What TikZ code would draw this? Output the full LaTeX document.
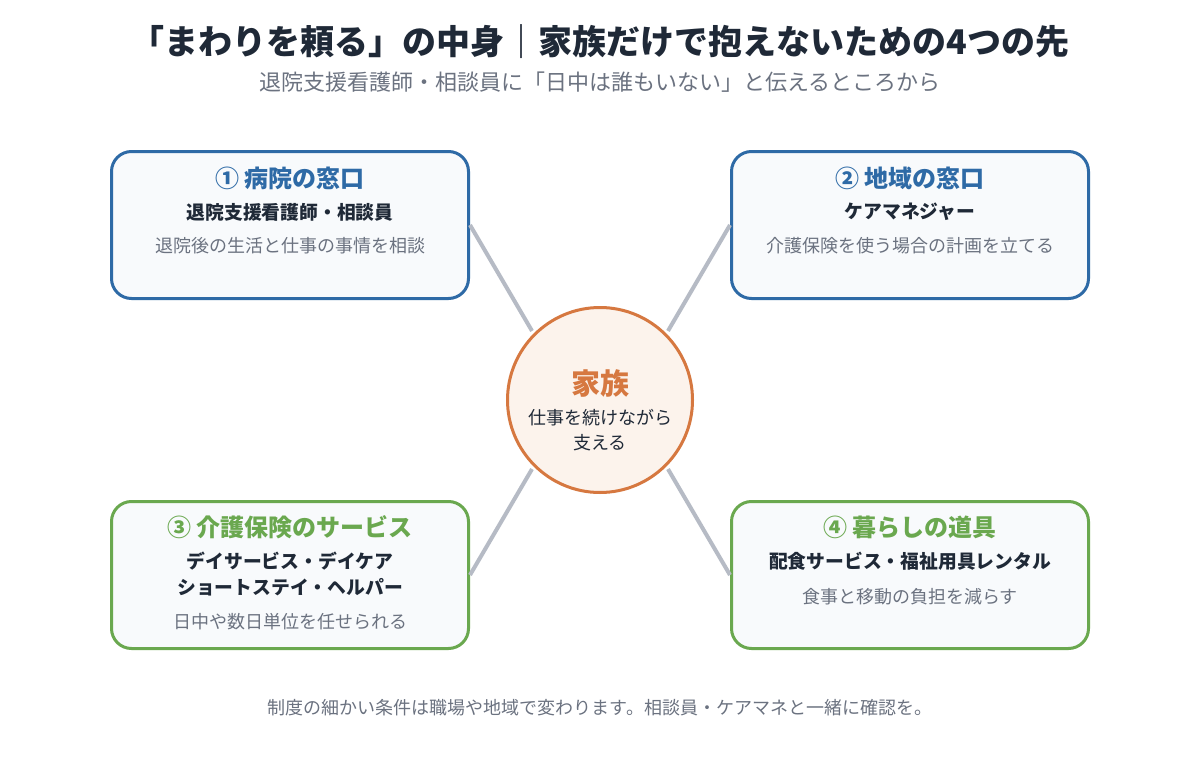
\documentclass[tikz,border=0pt]{standalone}
\usepackage{fontspec}
\setmainfont{Noto Sans CJK JP}

\definecolor{navy}{RGB}{31,41,55}
\definecolor{muted}{RGB}{107,114,128}
\definecolor{hospblue}{RGB}{46,106,166}
\definecolor{caregreen}{RGB}{106,168,79}
\definecolor{famorange}{RGB}{214,120,64}
\definecolor{famfill}{RGB}{252,243,236}
\definecolor{cardbg}{RGB}{248,250,252}
\definecolor{linkgray}{RGB}{182,187,197}

\begin{document}
\begin{tikzpicture}[x=1pt, y=-1pt,
    every node/.style={inner sep=0pt, align=center},
    card/.style={draw=#1, line width=3pt, fill=cardbg, rounded corners=20pt,
                 minimum width=357pt, minimum height=147pt},
    head/.style={font=\fontsize{24}{28}\selectfont\bfseries, text=#1},
    role/.style={font=\fontsize{18.8}{26}\selectfont\bfseries, text=navy},
    note/.style={font=\fontsize{18}{20}\selectfont, text=muted},
    link/.style={line width=4pt, draw=linkgray, shorten >=3pt},
    ]

    \fill[white] (0,0) rectangle (1200,760);
    \useasboundingbox (0,0) rectangle (1200,760);

    % title
    \node[font=\fontsize{34}{38}\selectfont\bfseries, text=navy] (title) at (600,42)
        {「まわりを頼る」の中身｜家族だけで抱えないための4つの先};
    \node[font=\fontsize{22}{24}\selectfont, text=muted] (subtitle) at (600,82)
        {退院支援看護師・相談員に「日中は誰もいない」と伝えるところから};

    % center
    \node[circle, draw=famorange, line width=3pt, fill=famfill,
          minimum size=185pt] (fam) at (600,400) {};
    \node[font=\fontsize{29}{30}\selectfont\bfseries, text=famorange] (fam-t) at (600,383) {家族};
    \node[font=\fontsize{18}{25}\selectfont, text=navy] (fam-s) at (600,430)
        {仕事を続けながら\\支える};

    % the four cards
    \node[card=hospblue] (hosp) at (290,225) {};
    \node[head=hospblue] (hosp-t) at (290,178) {① 病院の窓口};
    \node[role] (hosp-r) at (290,212) {退院支援看護師・相談員};
    \node[note] (hosp-n) at (290,246) {退院後の生活と仕事の事情を相談};

    \node[card=hospblue] (area) at (910,225) {};
    \node[head=hospblue] (area-t) at (910,178) {② 地域の窓口};
    \node[role] (area-r) at (910,212) {ケアマネジャー};
    \node[note] (area-n) at (910,246) {介護保険を使う場合の計画を立てる};

    \node[card=caregreen] (serv) at (290,575) {};
    \node[head=caregreen] (serv-t) at (290,527) {③ 介護保険のサービス};
    \node[role] (serv-r) at (290,574) {デイサービス・デイケア\\ショートステイ・ヘルパー};
    \node[note] (serv-n) at (290,622) {日中や数日単位を任せられる};

    \node[card=caregreen] (life) at (910,575) {};
    \node[head=caregreen] (life-t) at (910,527) {④ 暮らしの道具};
    \node[role] (life-r) at (910,561) {配食サービス・福祉用具レンタル};
    \node[note] (life-n) at (910,597) {食事と移動の負担を減らす};

    % links
    \foreach \c/\a in {hosp.east/135, area.west/45, serv.east/225, life.west/315}{
    \draw[link] (\c) -- (fam.\a);
    }

    \node[font=\fontsize{18}{20}\selectfont, text=muted] (foot) at (600,708)
        {制度の細かい条件は職場や地域で変わります。相談員・ケアマネと一緒に確認を。};

\end{tikzpicture}
\end{document}
